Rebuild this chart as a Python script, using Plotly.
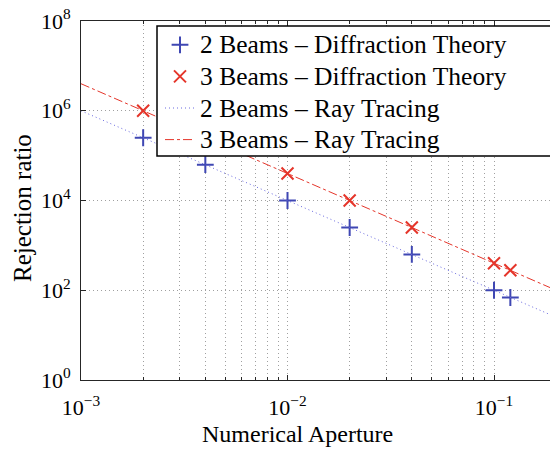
import plotly.graph_objects as go

# Data
na_points = [0.002, 0.004, 0.01, 0.02, 0.04, 0.1, 0.12]
beams2_diffraction = [2.5e5, 6.3e4, 1.0e4, 2.5e3, 630, 100, 69]
beams3_diffraction = [1.0e6, None, 4.0e4, 1.0e4, 2.5e3, 400, 278]

na_line = [0.001, 0.01, 0.1, 0.2]
beams2_ray = [1.0e6, 1.0e4, 100, 25]
beams3_ray = [4.0e6, 4.0e4, 400, 100]

x_tickvals = [1e-3, 1e-2, 1e-1]
x_ticktext = ["10<sup>\u22123</sup>", "10<sup>\u22122</sup>", "10<sup>\u22121</sup>"]
y_tickvals = [1e0, 1e2, 1e4, 1e6, 1e8]
y_ticktext = ["10<sup>0</sup>", "10<sup>2</sup>", "10<sup>4</sup>", "10<sup>6</sup>", "10<sup>8</sup>"]

names = ["2 Beams \u2013 Diffraction Theory", "3 Beams \u2013 Diffraction Theory",
         "2 Beams \u2013 Ray Tracing", "3 Beams \u2013 Ray Tracing"]

BLUE = "#3f47b3"
RED = "#e5352a"
FONT = "Liberation Serif, Times New Roman, Times, serif"


def big(s):
    return '<span style="font-size:25.5px">' + s + '</span>'


fig = go.Figure()
fig.add_trace(go.Scatter(x=na_points, y=beams2_diffraction, mode="markers", name=big(names[0]),
                         marker=dict(symbol="cross-thin", size=12, line=dict(color=BLUE, width=2), color=BLUE)))
fig.add_trace(go.Scatter(x=na_points, y=beams3_diffraction, mode="markers", name=big(names[1]),
                         marker=dict(symbol="x-thin", size=12, line=dict(color=RED, width=2), color=RED)))
fig.add_trace(go.Scatter(x=na_line, y=beams2_ray, mode="lines", name=big(names[2]),
                         line=dict(color="#6a6ae0", width=1, dash="1px,3px")))
fig.add_trace(go.Scatter(x=na_line, y=beams3_ray, mode="lines", name=big(names[3]),
                         line=dict(color=RED, width=1, dash="dashdot")))

L, T, B = 81, 21, 70
W, H = 550, 450
pw, ph = W - L, H - T - B

def px_x(p):
    return (p - L) / pw

def px_y(p):
    return (H - B - p) / ph

fig.add_shape(type="rect", xref="paper", yref="paper",
              x0=px_x(157), x1=px_x(600), y0=px_y(156), y1=px_y(26),
              fillcolor="white", line=dict(color="black", width=1.5), layer="above")

fig.add_annotation(text="Numerical Aperture", xref="paper", yref="paper",
                   x=px_x(297), y=px_y(434), showarrow=False,
                   xanchor="center", yanchor="middle", font=dict(family=FONT, size=24, color="black"))
fig.add_annotation(text="Rejection ratio", xref="paper", yref="paper",
                   x=px_x(22), y=px_y(208), showarrow=False, textangle=-90,
                   xanchor="center", yanchor="middle", font=dict(family=FONT, size=25, color="black"))

fig.update_xaxes(type="log", range=[-3, -3 + (W - L) / 206.5],
                 tickvals=x_tickvals, ticktext=x_ticktext,
                 ticks="inside", ticklen=5, tickcolor="#262626", tickwidth=1,
                 showline=True, linecolor="#262626", linewidth=1, mirror="ticks",
                 showgrid=True, gridcolor="#a0a0a0", griddash="1px,3px", gridwidth=1,
                 minor=dict(ticks="inside", ticklen=3, tickcolor="#262626", dtick="D1",
                            showgrid=True, gridcolor="#a0a0a0", griddash="1px,3px", gridwidth=1),
                 tickfont=dict(family=FONT, size=22, color="black"),
                 zeroline=False, ticklabelstandoff=8)
fig.update_yaxes(type="log", range=[0, 8],
                 tickvals=y_tickvals, ticktext=y_ticktext,
                 ticks="inside", ticklen=5, tickcolor="#262626", tickwidth=1,
                 showline=True, linecolor="#262626", linewidth=1, mirror=False,
                 showgrid=True, gridcolor="#a0a0a0", griddash="1px,3px", gridwidth=1,
                 tickfont=dict(family=FONT, size=22, color="black"),
                 zeroline=False, ticklabelstandoff=5)

fig.update_layout(width=W, height=H, margin=dict(l=L, r=0, t=T, b=B),
                  paper_bgcolor="white", plot_bgcolor="white",
                  font=dict(family=FONT, size=22, color="black"),
                  showlegend=True,
                  legend=dict(x=px_x(160), y=px_y(24), xanchor="left", yanchor="top",
                              bgcolor="rgba(0,0,0,0)", borderwidth=0,
                              font=dict(family=FONT, size=22, color="black"),
                              itemwidth=30, tracegroupgap=0))

fig.write_html("out.html")
